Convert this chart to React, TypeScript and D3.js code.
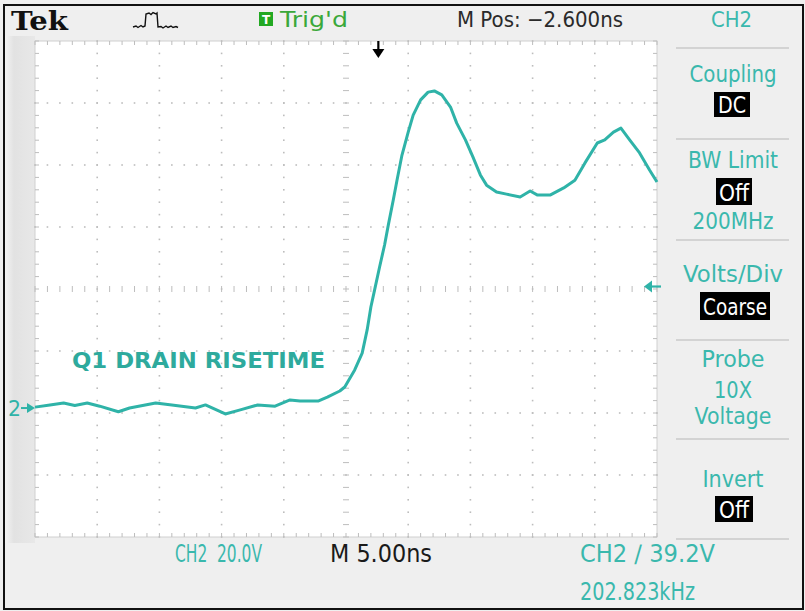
import React from "react";
import * as d3 from "d3";

// Time (ns from left edge of screen, 5 ns/div) and CH2 voltage (V, 20 V/div)
const timeNs = [0.0, 1.2, 2.3, 3.2, 4.2, 5.2, 6.7, 7.6, 9.7, 11.0, 12.9, 13.7, 15.3, 16.5, 17.9, 19.3, 20.5, 21.3, 22.8, 23.5, 24.5, 24.9, 25.7, 26.3, 26.7, 27.0, 27.3, 27.7, 28.1, 28.4, 28.8, 29.1, 29.5, 30.0, 30.4, 31.0, 31.6, 32.1, 32.7, 33.4, 33.9, 34.6, 35.2, 35.8, 36.3, 37.1, 37.9, 39.0, 39.8, 40.4, 41.4, 42.5, 43.4, 44.2, 45.2, 45.8, 46.5, 47.1, 47.8, 48.6, 49.4, 50.0];
const ch2Volts = [0.3, 1.0, 1.6, 0.8, 1.6, 0.6, -1.2, 0.0, 1.6, 1.0, 0.0, 1.0, -1.9, -0.6, 1.0, 0.6, 2.6, 2.3, 2.3, 3.5, 5.5, 6.8, 12.3, 17.7, 25.2, 32.6, 38.1, 45.5, 52.6, 59.0, 67.1, 73.5, 81.6, 89.0, 94.5, 99.4, 101.9, 102.3, 101.0, 97.1, 91.9, 86.5, 81.0, 75.2, 71.9, 69.7, 69.0, 68.1, 70.0, 68.7, 68.7, 71.0, 73.5, 79.0, 85.5, 86.5, 89.0, 90.3, 86.5, 82.3, 76.8, 72.9];

const timeDomain = [0, 50];
const voltDomain = [-41.6, 118.4];
const triggerTimeNs = 27.6;
const triggerLevelV = 39.2;

const topLabels = { brand: "Tek", trig: "Trig'd", mpos: "M Pos: \u22122.600ns" };
const panelHeader = "CH2";
const bottomLabels = { ch: "CH2\u00a0\u00a020.0V", time: "M 5.00ns", trig: "CH2 \u2215 39.2V", freq: "202.823kHz" };
const annotation = "Q1 DRAIN RISETIME";

const TEAL = "#2fb3a8";
const TEXT_TEAL = "#3ab8ad";
const GRID = "#bdbdbd";
const FONT = "'DejaVu Sans', sans-serif";

export default function App() {
  const W = 805, H = 611;
  const L = 35, R = 657, T = 41, B = 537;
  const x = d3.scaleLinear().domain(timeDomain).range([L, R]);
  const y = d3.scaleLinear().domain(voltDomain).range([B, T]);

  const majorX = d3.range(0, 51, 5);
  const majorY = d3.range(voltDomain[0], voltDomain[1] + 0.01, 20);
  const minorX = d3.range(0, 50.01, 1);
  const minorY = d3.range(voltDomain[0], voltDomain[1] + 0.01, 4);
  const cx = x(25), cy = y((voltDomain[0] + voltDomain[1]) / 2);

  const data = timeNs.map((t, i) => [t, ch2Volts[i]] as [number, number]);
  const line = d3.line<[number, number]>().x(d => x(d[0])).y(d => y(d[1]));

  const dots: JSX.Element[] = [];
  majorX.slice(1, -1).forEach((mx, i) =>
    minorY.forEach((my, j) => {
      if (Math.abs(x(mx) - cx) < 1) return;
      dots.push(<rect key={`vx${i}-${j}`} x={x(mx) - 0.8} y={y(my) - 0.8} width={1.6} height={1.6} fill={GRID} />);
    })
  );
  majorY.slice(1, -1).forEach((my, i) =>
    minorX.forEach((mx, j) => {
      if (Math.abs(y(my) - cy) < 1) return;
      dots.push(<rect key={`hy${i}-${j}`} x={x(mx) - 0.8} y={y(my) - 0.8} width={1.6} height={1.6} fill={GRID} />);
    })
  );
  const ticks: JSX.Element[] = [];
  minorX.forEach((mx, j) => {
    ticks.push(<line key={`ct${j}`} x1={x(mx)} x2={x(mx)} y1={cy - 3} y2={cy + 3} stroke={GRID} strokeWidth={1} />);
    ticks.push(<line key={`tt${j}`} x1={x(mx)} x2={x(mx)} y1={T} y2={T + 4} stroke={GRID} strokeWidth={1} />);
    ticks.push(<line key={`bt${j}`} x1={x(mx)} x2={x(mx)} y1={B} y2={B - 4} stroke={GRID} strokeWidth={1} />);
  });
  minorY.forEach((my, j) => {
    ticks.push(<line key={`cv${j}`} x1={cx - 3} x2={cx + 3} y1={y(my)} y2={y(my)} stroke={GRID} strokeWidth={1} />);
    ticks.push(<line key={`lv${j}`} x1={L} x2={L + 4} y1={y(my)} y2={y(my)} stroke={GRID} strokeWidth={1} />);
    ticks.push(<line key={`rv${j}`} x1={R} x2={R - 4} y1={y(my)} y2={y(my)} stroke={GRID} strokeWidth={1} />);
  });

  const panelX = 733;
  const seps = [48, 139, 240, 340, 439, 539];
  const box = (key: string, label: string, x0: number, x1: number, y0: number, y1: number, base: number, tl: number) => (
    <g key={key}>
      <rect x={x0} y={y0} width={x1 - x0} height={y1 - y0} fill="#000" />
      <text x={(x0 + x1) / 2 - tl / 2} y={base} fill="#fff" fontFamily={FONT} fontSize={23} textLength={tl} lengthAdjust="spacingAndGlyphs">{label}</text>
    </g>
  );
  const pt = (label: string, base: number, tl: number, key: string) => (
    <text key={key} x={panelX - tl / 2} y={base} fill={TEXT_TEAL} fontFamily={FONT} fontSize={23} textLength={tl} lengthAdjust="spacingAndGlyphs">{label}</text>
  );

  const trigY = y(triggerLevelV);
  const gndY = y(0);
  const trigX = x(triggerTimeNs);

  return (
    <svg width={W} height={H} style={{ position: "absolute", left: 0, top: 0, background: "#efefef" }}>
      <defs>
        <linearGradient id="leftband" x1="0" x2="1" y1="0" y2="0">
          <stop offset="0" stopColor="#f3f3f3" />
          <stop offset="0.3" stopColor="#e2e2e2" />
          <stop offset="1" stopColor="#e8e8e8" />
        </linearGradient>
      </defs>
      <rect x={0} y={0} width={W} height={H} fill="#efefef" />
      <rect x={5} y={36} width={L - 5} height={B - 30} fill="url(#leftband)" />
      <rect x={L} y={T} width={R - L} height={B - T} fill="#ffffff" stroke="#d0d0d0" strokeWidth={1} />
      {dots}
      {ticks}

      <path d={line(data) || ""} fill="none" stroke={TEAL} strokeWidth={3} strokeLinejoin="round" />

      <text x={72} y={368} fill="#2eaa9d" fontFamily={FONT} fontWeight="bold" fontSize={21} textLength={253} lengthAdjust="spacingAndGlyphs">{annotation}</text>

      {/* ground marker */}
      <text x={8} y={gndY + 8} fill={TEAL} fontFamily={FONT} fontSize={22} textLength={13} lengthAdjust="spacingAndGlyphs">2</text>
      <line x1={21} x2={31} y1={gndY} y2={gndY} stroke={TEAL} strokeWidth={2} />
      <path d={`M${35},${gndY} L${27},${gndY - 5} L${27},${gndY + 5} Z`} fill={TEAL} />

      {/* trigger level marker */}
      <line x1={649} x2={661} y1={trigY} y2={trigY} stroke={TEAL} strokeWidth={2.2} />
      <path d={`M${644},${trigY} L${652},${trigY - 6} L${652},${trigY + 6} Z`} fill={TEAL} />

      {/* trigger position arrow */}
      <line x1={trigX} x2={trigX} y1={41} y2={52} stroke="#000" strokeWidth={2.2} />
      <path d={`M${trigX},${58} L${trigX - 6},${49} L${trigX + 6},${49} Z`} fill="#000" />

      {/* top bar */}
      <text x={11} y={30} fill="#111" fontFamily="'DejaVu Serif', serif" fontWeight="bold" fontSize={26} textLength={57} lengthAdjust="spacingAndGlyphs">{topLabels.brand}</text>
      <path d="M133,27 L136,26 L138,27.5 L141,25.5 L143,27 L145,26 L146,14 L149,13 L151,14.5 L153,12.5 L156,14 L157,13 L158,27 L161,26.5 L163,28 L166,26 L168,27.5 L171,26 L173,27.5 L176,26.5 L178,27.5" fill="none" stroke="#111" strokeWidth={1.4} />
      <rect x={259} y={12} width={14} height={14} fill="#22a822" />
      <text x={266} y={24} fill="#fff" fontFamily={FONT} fontWeight="bold" fontSize={12} textAnchor="middle">T</text>
      <text x={280} y={27} fill="#3aa83a" fontFamily={FONT} fontSize={22} textLength={68} lengthAdjust="spacingAndGlyphs">{topLabels.trig}</text>
      <text x={457} y={27} fill="#2a2a2a" fontFamily={FONT} fontSize={22} textLength={166} lengthAdjust="spacingAndGlyphs">{topLabels.mpos}</text>
      <text x={711} y={27} fill={TEXT_TEAL} fontFamily={FONT} fontSize={22} textLength={41} lengthAdjust="spacingAndGlyphs">{panelHeader}</text>

      {/* right panel */}
      {seps.map((s, i) => (
        <line key={`sep${i}`} x1={676} x2={789} y1={s} y2={s} stroke="#b8b8b8" strokeWidth={1.2} />
      ))}
      {pt("Coupling", 82, 87, "p1")}
      {box("b1", "DC", 714, 750, 92, 117, 113, 28)}
      {pt("BW Limit", 168, 90, "p2")}
      {box("b2", "Off", 716, 752, 178, 205, 201, 30)}
      {pt("200MHz", 229, 81, "p3")}
      {pt("Volts/Div", 282, 100, "p4")}
      {box("b3", "Coarse", 700, 770, 292, 320, 315, 64)}
      {pt("Probe", 367, 63, "p5")}
      {pt("10X", 398, 38, "p6")}
      {pt("Voltage", 424, 77, "p7")}
      {pt("Invert", 487, 61, "p8")}
      {box("b4", "Off", 715, 753, 496, 522, 518, 30)}

      {/* bottom */}
      <text x={175} y={562} fill={TEXT_TEAL} fontFamily={FONT} fontSize={24} textLength={87} lengthAdjust="spacingAndGlyphs">{bottomLabels.ch}</text>
      <text x={330} y={562} fill="#1a1a1a" fontFamily={FONT} fontSize={24} textLength={102} lengthAdjust="spacingAndGlyphs">{bottomLabels.time}</text>
      <text x={580} y={562} fill={TEXT_TEAL} fontFamily={FONT} fontSize={24} textLength={135} lengthAdjust="spacingAndGlyphs">{bottomLabels.trig}</text>
      <text x={580} y={600} fill={TEXT_TEAL} fontFamily={FONT} fontSize={24} textLength={115} lengthAdjust="spacingAndGlyphs">{bottomLabels.freq}</text>

      <rect x={4} y={5} width={W - 6} height={H - 7} fill="none" stroke="#111" strokeWidth={2} />
    </svg>
  );
}
